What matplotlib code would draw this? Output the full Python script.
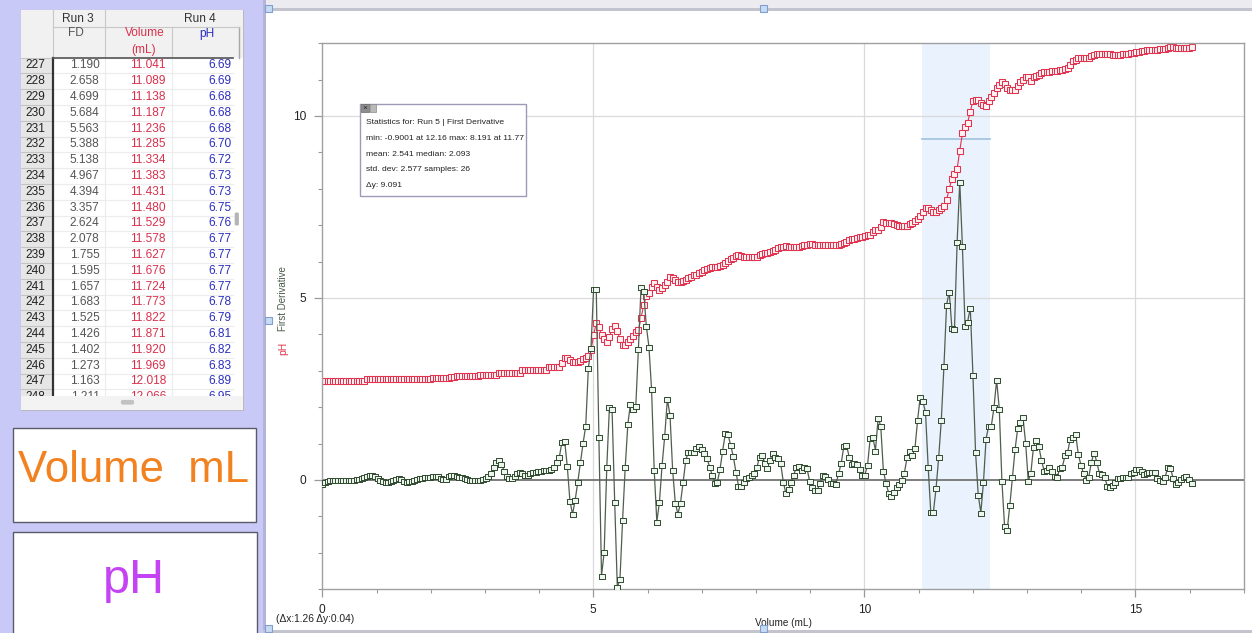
import numpy as np
import matplotlib
matplotlib.use("Agg")
import matplotlib.pyplot as plt
from matplotlib.patches import Rectangle, FancyBboxPatch, ConnectionPatch
from matplotlib.ticker import MultipleLocator, FixedLocator

plt.rcParams['font.family'] = ['Liberation Sans', 'DejaVu Sans']

# ---------------- data ----------------
VOLUME_STEP = 0.0486  # mL delivered between recorded samples (Run 5)

ph = [
    2.73, 2.73, 2.73, 2.73, 2.73, 2.73, 2.73, 2.73, 2.73, 2.73,
    2.73, 2.73, 2.73, 2.73, 2.73, 2.73, 2.73, 2.77, 2.77, 2.77,
    2.77, 2.77, 2.77, 2.77, 2.77, 2.77, 2.77, 2.77, 2.77, 2.77,
    2.77, 2.77, 2.77, 2.77, 2.77, 2.77, 2.77, 2.77, 2.77, 2.77,
    2.77, 2.77, 2.80, 2.80, 2.80, 2.80, 2.80, 2.80, 2.80, 2.83,
    2.83, 2.86, 2.86, 2.86, 2.86, 2.86, 2.86, 2.86, 2.86, 2.86,
    2.88, 2.88, 2.88, 2.88, 2.88, 2.88, 2.88, 2.94, 2.94, 2.94,
    2.94, 2.94, 2.94, 2.94, 2.94, 2.94, 3.02, 3.02, 3.02, 3.02,
    3.02, 3.02, 3.02, 3.02, 3.02, 3.02, 3.10, 3.10, 3.10, 3.10,
    3.10, 3.22, 3.34, 3.34, 3.30, 3.25, 3.25, 3.25, 3.28, 3.33,
    3.34, 3.40, 3.56, 3.98, 4.32, 4.20, 3.98, 3.87, 3.80, 3.94,
    4.15, 4.23, 4.10, 3.86, 3.72, 3.70, 3.78, 3.88, 3.96, 4.07,
    4.12, 4.45, 4.80, 5.05, 5.15, 5.30, 5.40, 5.31, 5.22, 5.28,
    5.35, 5.45, 5.59, 5.56, 5.50, 5.45, 5.45, 5.47, 5.50, 5.54,
    5.58, 5.62, 5.64, 5.68, 5.72, 5.76, 5.80, 5.83, 5.86, 5.86,
    5.86, 5.87, 5.92, 5.97, 6.02, 6.06, 6.10, 6.15, 6.17, 6.15,
    6.12, 6.12, 6.12, 6.12, 6.12, 6.14, 6.17, 6.20, 6.23, 6.24,
    6.26, 6.30, 6.33, 6.36, 6.39, 6.41, 6.43, 6.41, 6.39, 6.39,
    6.39, 6.41, 6.43, 6.45, 6.46, 6.48, 6.48, 6.46, 6.45, 6.45,
    6.45, 6.46, 6.46, 6.46, 6.46, 6.46, 6.46, 6.47, 6.50, 6.54,
    6.58, 6.61, 6.62, 6.64, 6.67, 6.68, 6.70, 6.72, 6.74, 6.80,
    6.86, 6.88, 6.95, 7.08, 7.07, 7.06, 7.05, 7.03, 7.00, 6.99,
    6.98, 6.98, 6.98, 7.02, 7.07, 7.12, 7.16, 7.25, 7.37, 7.47,
    7.48, 7.43, 7.37, 7.37, 7.41, 7.48, 7.53, 7.69, 8.00, 8.27,
    8.41, 8.54, 9.05, 9.52, 9.69, 9.82, 10.12, 10.42, 10.44, 10.44,
    10.37, 10.30, 10.28, 10.40, 10.52, 10.62, 10.76, 10.85, 10.94, 10.88,
    10.76, 10.72, 10.71, 10.71, 10.82, 10.94, 11.00, 11.06, 11.06, 10.97,
    11.06, 11.10, 11.13, 11.19, 11.20, 11.22, 11.22, 11.23, 11.25, 11.25,
    11.26, 11.27, 11.28, 11.33, 11.40, 11.50, 11.55, 11.58, 11.58, 11.58,
    11.59, 11.60, 11.64, 11.68, 11.70, 11.71, 11.71, 11.71, 11.70, 11.69,
    11.68, 11.68, 11.68, 11.68, 11.69, 11.69, 11.71, 11.73, 11.74, 11.76,
    11.77, 11.78, 11.79, 11.80, 11.81, 11.82, 11.82, 11.82, 11.83, 11.84,
    11.85, 11.88, 11.90, 11.89, 11.88, 11.88, 11.88, 11.88, 11.88, 11.88,
    11.89,
]

first_derivative = [
    -0.12, -0.05, -0.02, 0.00, 0.01, 0.00, 0.00, 0.01, 0.00, 0.00,
    0.00, 0.01, 0.00, 0.02, 0.03, 0.05, 0.08, 0.10, 0.13, 0.14,
    0.12, 0.05, 0.00, -0.04, -0.05, -0.05, -0.03, 0.00, 0.03, 0.05,
    0.02, -0.04, -0.05, -0.04, -0.02, 0.00, 0.02, 0.05, 0.06, 0.07,
    0.08, 0.09, 0.10, 0.12, 0.10, 0.05, 0.03, 0.04, 0.10, 0.14,
    0.13, 0.12, 0.09, 0.07, 0.05, 0.02, 0.00, 0.00, 0.00, 0.00,
    0.00, 0.02, 0.05, 0.10, 0.18, 0.35, 0.50, 0.55, 0.45, 0.25,
    0.10, 0.06, 0.05, 0.10, 0.20, 0.22, 0.18, 0.15, 0.14, 0.18,
    0.22, 0.23, 0.25, 0.26, 0.27, 0.27, 0.27, 0.30, 0.35, 0.50,
    0.64, 1.05, 1.07, 0.38, -0.57, -0.94, -0.55, -0.05, 0.49, 1.01,
    1.48, 3.07, 3.62, 5.25, 5.25, 1.19, -2.63, -1.99, 0.35, 2.00,
    1.94, -0.60, -2.95, -2.73, -1.10, 0.35, 1.54, 2.10, 1.96, 2.02,
    3.60, 5.29, 5.20, 4.23, 3.66, 2.49, 0.27, -1.15, -0.60, 0.41,
    1.21, 2.22, 1.78, 0.27, -0.62, -0.94, -0.62, -0.05, 0.55, 0.78,
    0.78, 0.78, 0.87, 0.93, 0.84, 0.73, 0.60, 0.37, 0.14, -0.07,
    -0.05, 0.30, 0.81, 1.28, 1.26, 0.96, 0.66, 0.23, -0.16, -0.16,
    -0.05, 0.06, 0.09, 0.14, 0.18, 0.35, 0.64, 0.69, 0.46, 0.32,
    0.55, 0.73, 0.64, 0.60, 0.46, -0.05, -0.37, -0.26, -0.05, 0.14,
    0.37, 0.39, 0.27, 0.35, 0.32, -0.03, -0.18, -0.27, -0.27, -0.07,
    0.14, 0.11, 0.02, -0.07, -0.09, -0.11, 0.18, 0.46, 0.93, 0.96,
    0.64, 0.44, 0.46, 0.44, 0.30, 0.14, 0.14, 0.41, 1.15, 1.17,
    0.81, 1.69, 1.49, 0.26, -0.09, -0.35, -0.44, -0.32, -0.20, -0.10,
    0.00, 0.20, 0.62, 0.81, 0.69, 0.87, 1.65, 2.29, 2.16, 1.86,
    0.37, -0.89, -0.88, -0.23, 0.62, 1.65, 3.13, 4.81, 5.17, 4.18,
    4.16, 6.53, 8.191, 6.43, 4.23, 4.35, 4.73, 2.89, 0.76, -0.40,
    -0.9001, -0.06, 1.14, 1.49, 1.49, 2.00, 2.74, 1.96, -0.02, -1.26,
    -1.38, -0.70, 0.08, 0.84, 1.42, 1.60, 1.72, 1.02, -0.02, 0.19,
    0.92, 1.10, 0.93, 0.55, 0.26, 0.27, 0.35, 0.26, 0.11, 0.09,
    0.32, 0.37, 0.69, 0.78, 1.14, 1.19, 1.26, 0.71, 0.41, 0.18,
    0.00, 0.09, 0.50, 0.75, 0.50, 0.18, 0.16, 0.07, -0.16, -0.18,
    -0.14, -0.05, 0.05, 0.05, 0.07, 0.09, 0.09, 0.18, 0.23, 0.30,
    0.31, 0.26, 0.16, 0.18, 0.22, 0.22, 0.23, 0.05, 0.00, -0.02,
    0.09, 0.35, 0.32, 0.05, -0.11, -0.05, 0.02, 0.09, 0.11, 0.02,
    -0.09,
]

volume = np.arange(len(ph)) * VOLUME_STEP

# selected region used for the statistics box
selection_start = 11.06
selection_end = 12.32
selection_level = 9.36
stats_lines = [
    "Statistics for: Run 5 | First Derivative",
    "min: -0.9001 at 12.16 max: 8.191 at 11.77",
    "mean: 2.541 median: 2.093",
    "std. dev: 2.577 samples: 26",
    "\u0394y: 9.091",
]
selection_readout = "(\u0394x:1.26 \u0394y:0.04)"

# data table rows
table_rows = [227, 228, 229, 230, 231, 232, 233, 234, 235, 236, 237,
              238, 239, 240, 241, 242, 243, 244, 245, 246, 247, 248]
table_fd = ["1.190", "2.658", "4.699", "5.684", "5.563", "5.388", "5.138",
            "4.967", "4.394", "3.357", "2.624", "2.078", "1.755", "1.595",
            "1.657", "1.683", "1.525", "1.426", "1.402", "1.273", "1.163",
            "1.211"]
table_volume = ["11.041", "11.089", "11.138", "11.187", "11.236", "11.285",
                "11.334", "11.383", "11.431", "11.480", "11.529", "11.578",
                "11.627", "11.676", "11.724", "11.773", "11.822", "11.871",
                "11.920", "11.969", "12.018", "12.066"]
table_ph = ["6.69", "6.69", "6.68", "6.68", "6.68", "6.70", "6.72", "6.73",
            "6.73", "6.75", "6.76", "6.77", "6.77", "6.77", "6.77", "6.78",
            "6.79", "6.81", "6.82", "6.83", "6.89", "6.95"]

# ---------------- colours ----------------
LAVENDER = "#c9c9f7"
PH_RED = "#e1334f"
DERIV_GREEN = "#2f4a2f"
DERIV_LINE = "#4f5f4f"
FD_GRAY = "#555555"
VOL_RED = "#d9304c"
PH_BLUE = "#2b2fc0"

W, H = 1252, 633
fig = plt.figure(figsize=(W / 100, H / 100), dpi=100)
fig.patch.set_facecolor("white")


def pixel_layer(z):
    a = fig.add_axes([0, 0, 1, 1], zorder=z)
    a.set_xlim(0, W)
    a.set_ylim(H, 0)
    a.axis("off")
    a.patch.set_alpha(0)
    return a


bg = pixel_layer(0)

# left side panel
bg.add_patch(Rectangle((0, 0), 263, H, fc=LAVENDER, ec="none"))
# strip above the graph pane
bg.add_patch(Rectangle((263, 0), W - 263, 8, fc="#ececf0", ec="none"))
bg.add_patch(Rectangle((263, 8), W - 263, 2.5, fc="#c4c4cf", ec="none"))
bg.add_patch(Rectangle((263, 0), 2.5, H, fc="#b4b4d8", ec="none"))
bg.add_patch(Rectangle((263, H - 3), W - 263, 3, fc="#c4c4cf", ec="none"))

# ---- data table ----
tl, tr = 20.5, 243.0
col_edges = [20.5, 53.0, 105.0, 172.0, 239.0]
head_top, head_mid, head_bot = 10.0, 26.5, 57.5
row_h = 15.8
scroll_top = 396.0
table_bot = 410.0

bg.add_patch(Rectangle((tl, head_top), tr - tl, table_bot - head_top,
                       fc="white", ec="#b8b8c0", lw=0.8, zorder=1))
bg.add_patch(Rectangle((tl, head_top), tr - tl, head_bot - head_top,
                       fc="#f1f1f1", ec="none", zorder=1.1))
bg.add_patch(Rectangle((tl, head_bot), col_edges[1] - tl, scroll_top - head_bot,
                       fc="#e6e6e6", ec="none", zorder=1.1))
# header grid
bg.plot([col_edges[1], col_edges[1]], [head_top, head_bot], color="#c8c8c8", lw=0.8, zorder=1.2)
bg.plot([col_edges[2], col_edges[2]], [head_top, head_bot], color="#c8c8c8", lw=0.8, zorder=1.2)
bg.plot([col_edges[3], col_edges[3]], [head_mid, head_bot], color="#c8c8c8", lw=0.8, zorder=1.2)
bg.plot([col_edges[4], col_edges[4]], [head_mid, head_bot], color="#a8a8a8", lw=1.0, zorder=1.2)
bg.plot([col_edges[1], 239], [head_mid, head_mid], color="#c8c8c8", lw=0.8, zorder=1.2)
# row separators and column separators in body
for k in range(len(table_rows) + 1):
    yy = head_bot + row_h * k
    if yy < scroll_top:
        bg.plot([tl, col_edges[1]], [yy, yy], color="#c4c4c4", lw=0.8, zorder=1.2)
        bg.plot([col_edges[1], 233], [yy, yy], color="#ececec", lw=0.8, zorder=1.2)
for xe in col_edges[2:4]:
    bg.plot([xe, xe], [head_bot, scroll_top], color="#ececec", lw=0.8, zorder=1.2)
bg.plot([col_edges[1], col_edges[1]], [head_bot, scroll_top], color="#333333", lw=1.6, zorder=1.3)
bg.plot([col_edges[1], 233], [head_bot, head_bot], color="#555555", lw=1.2, zorder=1.3)

tfs = 8.6
bg.text(78, 18.5, "Run 3", ha="center", va="center", fontsize=tfs, color="#333333", zorder=2)
bg.text(200, 18.5, "Run 4", ha="center", va="center", fontsize=tfs, color="#333333", zorder=2)
bg.text(76, 33.5, "FD", ha="center", va="center", fontsize=tfs, color=FD_GRAY, zorder=2)
bg.text(145, 33.5, "Volume", ha="center", va="center", fontsize=tfs, color=VOL_RED, zorder=2)
bg.text(144, 50, "(mL)", ha="center", va="center", fontsize=tfs, color=VOL_RED, zorder=2)
bg.text(207, 33.5, "pH", ha="center", va="center", fontsize=tfs, color=PH_BLUE, zorder=2)

for k, (rn, fd, vol, p) in enumerate(zip(table_rows, table_fd, table_volume, table_ph)):
    yc = head_bot + row_h * (k + 0.5)
    bg.text(45.5, yc, str(rn), ha="right", va="center", fontsize=tfs, color="#222222", zorder=2)
    bg.text(99.5, yc, fd, ha="right", va="center", fontsize=tfs, color=FD_GRAY, zorder=2)
    bg.text(166, yc, vol, ha="right", va="center", fontsize=tfs, color=VOL_RED, zorder=2)
    bg.text(231.5, yc, p, ha="right", va="center", fontsize=tfs, color=PH_BLUE, zorder=2)

# scroll bars
bg.add_patch(Rectangle((tl + 0.5, scroll_top), tr - tl - 1, table_bot - scroll_top - 0.5,
                       fc="#f3f3f3", ec="none", zorder=5))
bg.add_patch(FancyBboxPatch((121.5, 400.5), 12, 3.5, boxstyle="round,pad=0.6,rounding_size=1.8",
                            fc="#c2c2c2", ec="none", zorder=6))
bg.add_patch(FancyBboxPatch((235.2, 213), 3.2, 12, boxstyle="round,pad=0.5,rounding_size=1.5",
                            fc="#b4b4b4", ec="none", zorder=6))

# ---- meter boxes ----
bg.add_patch(Rectangle((12.7, 427.7), 243.5, 94.6, fc="white", ec="#5a5a6a", lw=1.0))
bg.text(134, 481.7, "Volume  mL", ha="center", va="baseline", fontsize=31.5, color="#f28220")
bg.add_patch(Rectangle((12.7, 531.7), 244.5, 104, fc="white", ec="#5a5a6a", lw=1.0))
bg.text(133.5, 593.3, "pH", ha="center", va="baseline", fontsize=35, color="#c443f2")

# ---------------- graph ----------------
ax_l, ax_r, ax_t, ax_b = 322.3, 1243.7, 43.2, 589.2
ax = fig.add_axes([ax_l / W, 1 - ax_b / H, (ax_r - ax_l) / W, (ax_b - ax_t) / H], zorder=1)
ax.set_facecolor("white")
ax.set_xlim(0, 17)
ax.set_ylim(-3, 12)

ax.axvspan(selection_start, selection_end, color="#eaf2fd", zorder=0.5, lw=0)
ax.plot([selection_start, selection_end], [selection_level, selection_level],
        color="#a6c6e2", lw=1.3, zorder=0.8)

for xv in (5, 10, 15):
    ax.axvline(xv, color="#dadada", lw=0.9, zorder=0.6)
for yv in (5, 10):
    ax.axhline(yv, color="#dadada", lw=0.9, zorder=0.6)
ax.axhline(0, color="#7d7d7d", lw=1.4, zorder=0.9)

ax.plot(volume, ph, color=PH_RED, lw=0.8, marker="s", ms=4.0,
        mfc="#fff2f4", mec=PH_RED, mew=0.75, zorder=2)

rect_marker = [(-1, -0.72), (1, -0.72), (1, 0.72), (-1, 0.72), (-1, -0.72)]
ax.plot(volume, first_derivative, color=DERIV_LINE, lw=0.9, marker=rect_marker, ms=5.0,
        mfc="#eef5ee", mec=DERIV_GREEN, mew=0.7, zorder=3)

for side in ("top", "right", "left", "bottom"):
    ax.spines[side].set_color("#a0a0a0")
    ax.spines[side].set_linewidth(1.0)

ax.xaxis.set_major_locator(FixedLocator([0, 5, 10, 15]))
ax.xaxis.set_minor_locator(MultipleLocator(1))
ax.yaxis.set_major_locator(FixedLocator([0, 5, 10]))
ax.yaxis.set_minor_locator(MultipleLocator(1))
ax.tick_params(which="major", length=5.5, width=0.9, color="#9a9a9a",
               labelsize=8.6, labelcolor="#222222", pad=5)
ax.tick_params(which="minor", length=3, width=0.8, color="#9a9a9a")
ax.tick_params(axis="y", pad=6)

fg = pixel_layer(2)
fg.text(783, 623, "Volume (mL)", ha="center", va="center", fontsize=7.2, color="#222222")
fg.text(276, 619, selection_readout, ha="left", va="center", fontsize=7.4, color="#222222")
fg.text(283, 348, "pH", rotation=90, ha="center", va="center", fontsize=7.4, color=PH_RED)
fg.text(283, 299, "First Derivative", rotation=90, ha="center", va="center",
        fontsize=7.0, color="#4a5a4a")

# statistics box
bx0, by0, bx1, by1 = 360, 104, 526, 196
fg.add_patch(Rectangle((bx0, by0), bx1 - bx0, by1 - by0, fc="white", ec="#9b9bb8", lw=1.0, zorder=4))
fg.add_patch(Rectangle((361, 104), 7.5, 8, fc="#8e8e8e", ec="#6a6a6a", lw=0.5, zorder=5))
fg.text(364.8, 108, "\u00d7", ha="center", va="center", fontsize=6, color="#222222", zorder=6)
fg.add_patch(Rectangle((369.5, 104), 6, 8, fc="#b9b9b9", ec="#8a8a8a", lw=0.5, zorder=5))
for k, line in enumerate(stats_lines):
    fg.text(366, 123 + 15.6 * k, line, ha="left", va="center", fontsize=6.1,
            color="#222222", zorder=6)

sel_idx = int(np.argmin(np.abs(volume - selection_end)))
con = ConnectionPatch(xyA=(bx1 + 0.5, by1 - 2.5), coordsA=fg.transData,
                      xyB=(volume[sel_idx], first_derivative[sel_idx]), coordsB=ax.transData,
                      color="#2a2a2a", lw=0.9)
fig.add_artist(con)

# selection handles of the graph pane
for hx, hy in ((268, 8), (763, 8), (268, 320), (763, 628), (268, 628)):
    fg.add_patch(Rectangle((hx - 3.5, hy - 3.5), 7, 7, fc="#c7dbf2", ec="#7f9fcf", lw=0.8, zorder=7))

fig.savefig("out.png", dpi=100)
